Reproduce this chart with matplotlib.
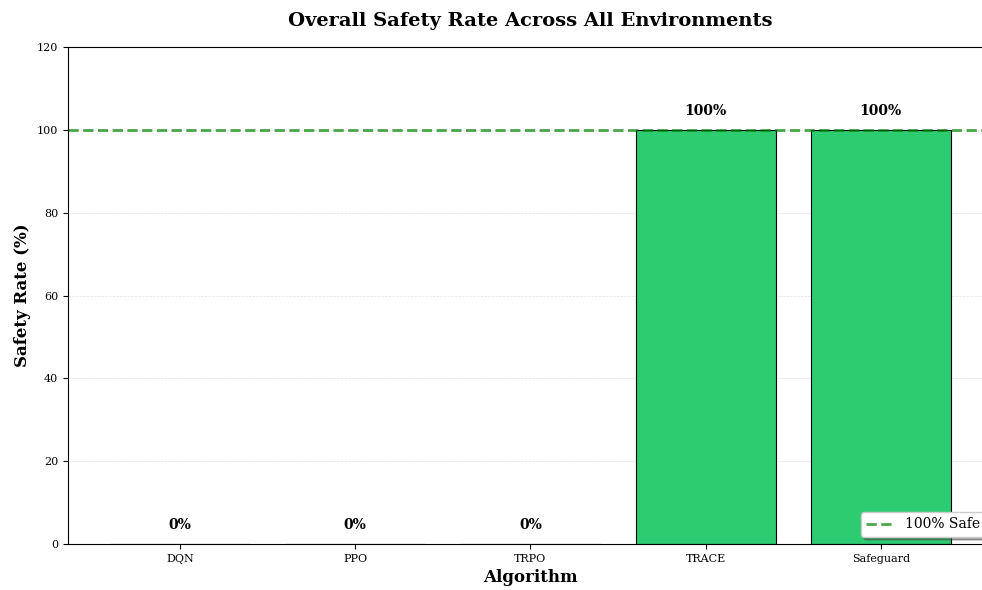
import matplotlib
matplotlib.use("Agg")
import matplotlib.pyplot as plt
import numpy as np

plt.rcParams['font.family'] = ['DejaVu Serif']

algorithms = ["DQN", "PPO", "TRPO", "TRACE", "Safeguard"]
safety_rate = [0, 0, 0, 100, 100]

fig = plt.figure(figsize=(9.82, 5.90), dpi=100)
ax = fig.add_axes([0.0692, 0.078, 0.942, 0.842])

x = np.arange(len(algorithms))
bars = ax.bar(x, safety_rate, width=0.8, color='#2ecc71', edgecolor='black', linewidth=0.8)

for b, v in zip(bars, safety_rate):
    ax.text(b.get_x() + b.get_width() / 2, v + 3, f"{v}%", ha='center', va='bottom',
            fontsize=10, fontweight='bold')

ax.axhline(100, color='green', linestyle='--', linewidth=2, alpha=0.7, label='100% Safe')

ax.set_ylim(0, 120)
ax.set_xticks(x)
ax.set_xticklabels(algorithms, fontsize=8)
ax.tick_params(axis='y', labelsize=8)
ax.set_xlabel("Algorithm", fontsize=12, fontweight='bold')
ax.set_ylabel("Safety Rate (%)", fontsize=12, fontweight='bold')
ax.set_title("Overall Safety Rate Across All Environments", fontsize=14, fontweight='bold', pad=15)
ax.yaxis.grid(True, linestyle='--', alpha=0.4, linewidth=0.5)
ax.set_axisbelow(True)
ax.legend(loc='lower right', fontsize=10, shadow=True)

fig.savefig("out.png", dpi=100)
